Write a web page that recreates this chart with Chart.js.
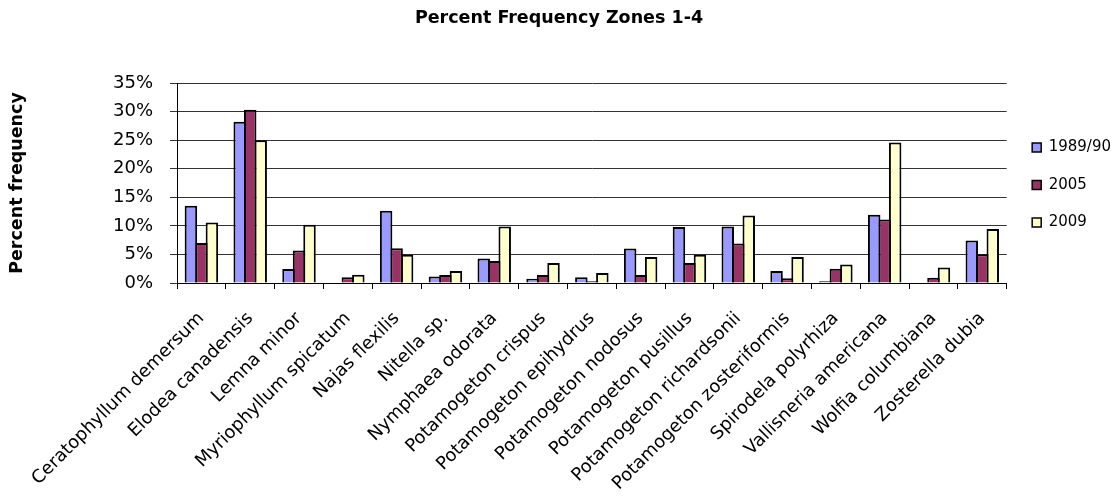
<!DOCTYPE html>
<html>
<head>
<meta charset="utf-8">
<title>Percent Frequency Zones 1-4</title>
<script src="https://cdn.jsdelivr.net/npm/chart.js@4.4.1/dist/chart.umd.min.js"></script>
<style>
  html, body { margin: 0; padding: 0; background: #fff; }
  #wrap { width: 1118px; height: 499px; }
</style>
</head>
<body>
<div id="wrap"><canvas id="chart" width="1118" height="499"></canvas></div>
<script>
// Species surveyed
const species = [
  'Ceratophyllum demersum',
  'Elodea canadensis',
  'Lemna minor',
  'Myriophyllum spicatum',
  'Najas flexilis',
  'Nitella sp.',
  'Nymphaea odorata',
  'Potamogeton crispus',
  'Potamogeton epihydrus',
  'Potamogeton nodosus',
  'Potamogeton pusillus',
  'Potamogeton richardsonii',
  'Potamogeton zosteriformis',
  'Spirodela polyrhiza',
  'Vallisneria americana',
  'Wolfia columbiana',
  'Zosterella dubia'
];

// Percent frequency by survey year
const freq1989 = [13.5, 28.2, 2.45, 0, 12.65, 1.15, 4.3, 0.75, 1.0, 6.05, 9.8, 9.9, 2.1, 0.3, 11.95, 0, 7.45];
const freq2005 = [7.0, 30.3, 5.7, 1.0, 6.1, 1.4, 3.85, 1.4, 0.3, 1.4, 3.5, 6.9, 0.85, 2.5, 11.1, 0.9, 5.05];
const freq2009 = [10.6, 25.0, 10.2, 1.45, 4.95, 2.1, 9.9, 3.5, 1.75, 4.55, 4.95, 11.8, 4.55, 3.25, 24.6, 2.7, 9.45];

const seriesNames = ['1989/90', '2005', '2009'];
const yTicks = [0, 5, 10, 15, 20, 25, 30, 35];

Chart.defaults.font.family = "'DejaVu Sans', sans-serif";
Chart.defaults.color = '#000';

// nudge the legend column a little right and down
const legendShift = {
  id: 'legendShift',
  afterLayout(chart) {
    const lg = chart.legend;
    if (lg) {
      lg.left += 3;
      lg.right += 3;
      lg.top += 2;
      lg.bottom += 2;
    }
  }
};

const barStyle = {
  borderColor: '#000',
  borderWidth: 2,
  borderSkipped: 'bottom',
  categoryPercentage: 0.645,
  barPercentage: 1.19
};

new Chart(document.getElementById('chart'), {
  type: 'bar',
  data: {
    labels: species,
    datasets: [
      Object.assign({ label: seriesNames[0], data: freq1989, backgroundColor: '#9999FF' }, barStyle),
      Object.assign({ label: seriesNames[1], data: freq2005, backgroundColor: '#993366' }, barStyle),
      Object.assign({ label: seriesNames[2], data: freq2009, backgroundColor: '#FFFFCC' }, barStyle)
    ]
  },
  options: {
    responsive: false,
    animation: false,
    layout: { padding: { left: 0, right: 0, top: 0, bottom: 0 } },
    plugins: {
      title: {
        display: true,
        text: 'Percent Frequency Zones 1-4',
        color: '#000',
        font: { size: 17.5, weight: 'bold' },
        padding: { top: 8, bottom: 54 }
      },
      legend: {
        position: 'right',
        align: 'center',
        fullSize: false,
        maxWidth: 116,
        labels: {
          boxWidth: 9,
          boxHeight: 9,
          padding: 22.5,
          color: '#000',
          font: { size: 15 },
          generateLabels(chart) {
            const items = Chart.defaults.plugins.legend.labels.generateLabels(chart);
            items.forEach(it => { it.lineWidth = 1.5; it.strokeStyle = '#000'; });
            return items;
          }
        }
      },
      tooltip: { enabled: false }
    },
    scales: {
      x: {
        offset: true,
        grid: {
          offset: true,
          drawOnChartArea: false,
          drawTicks: true,
          tickLength: 6,
          color: '#000'
        },
        border: { color: '#000', width: 1 },
        ticks: {
          autoSkip: false,
          maxRotation: 45,
          minRotation: 45,
          padding: 19,
          font: { size: 18 },
          color: '#000'
        },
        afterFit(scale) { scale.height = 216; }
      },
      y: {
        min: 0,
        max: 35,
        afterBuildTicks(scale) { scale.ticks = yTicks.map(v => ({ value: v })); },
        grid: {
          color: '#333',
          lineWidth: 1,
          drawTicks: true,
          tickLength: 7
        },
        border: { color: '#000', width: 1 },
        ticks: {
          padding: 17,
          font: { size: 18 },
          color: '#000',
          callback: v => v + '%'
        },
        title: {
          display: true,
          text: 'Percent frequency',
          color: '#000',
          font: { size: 17.5, weight: 'bold' },
          padding: { top: 7, bottom: 0 }
        },
        afterFit(scale) { scale.width = 177; }
      }
    }
  },
  plugins: [legendShift]
});
</script>
</body>
</html>
